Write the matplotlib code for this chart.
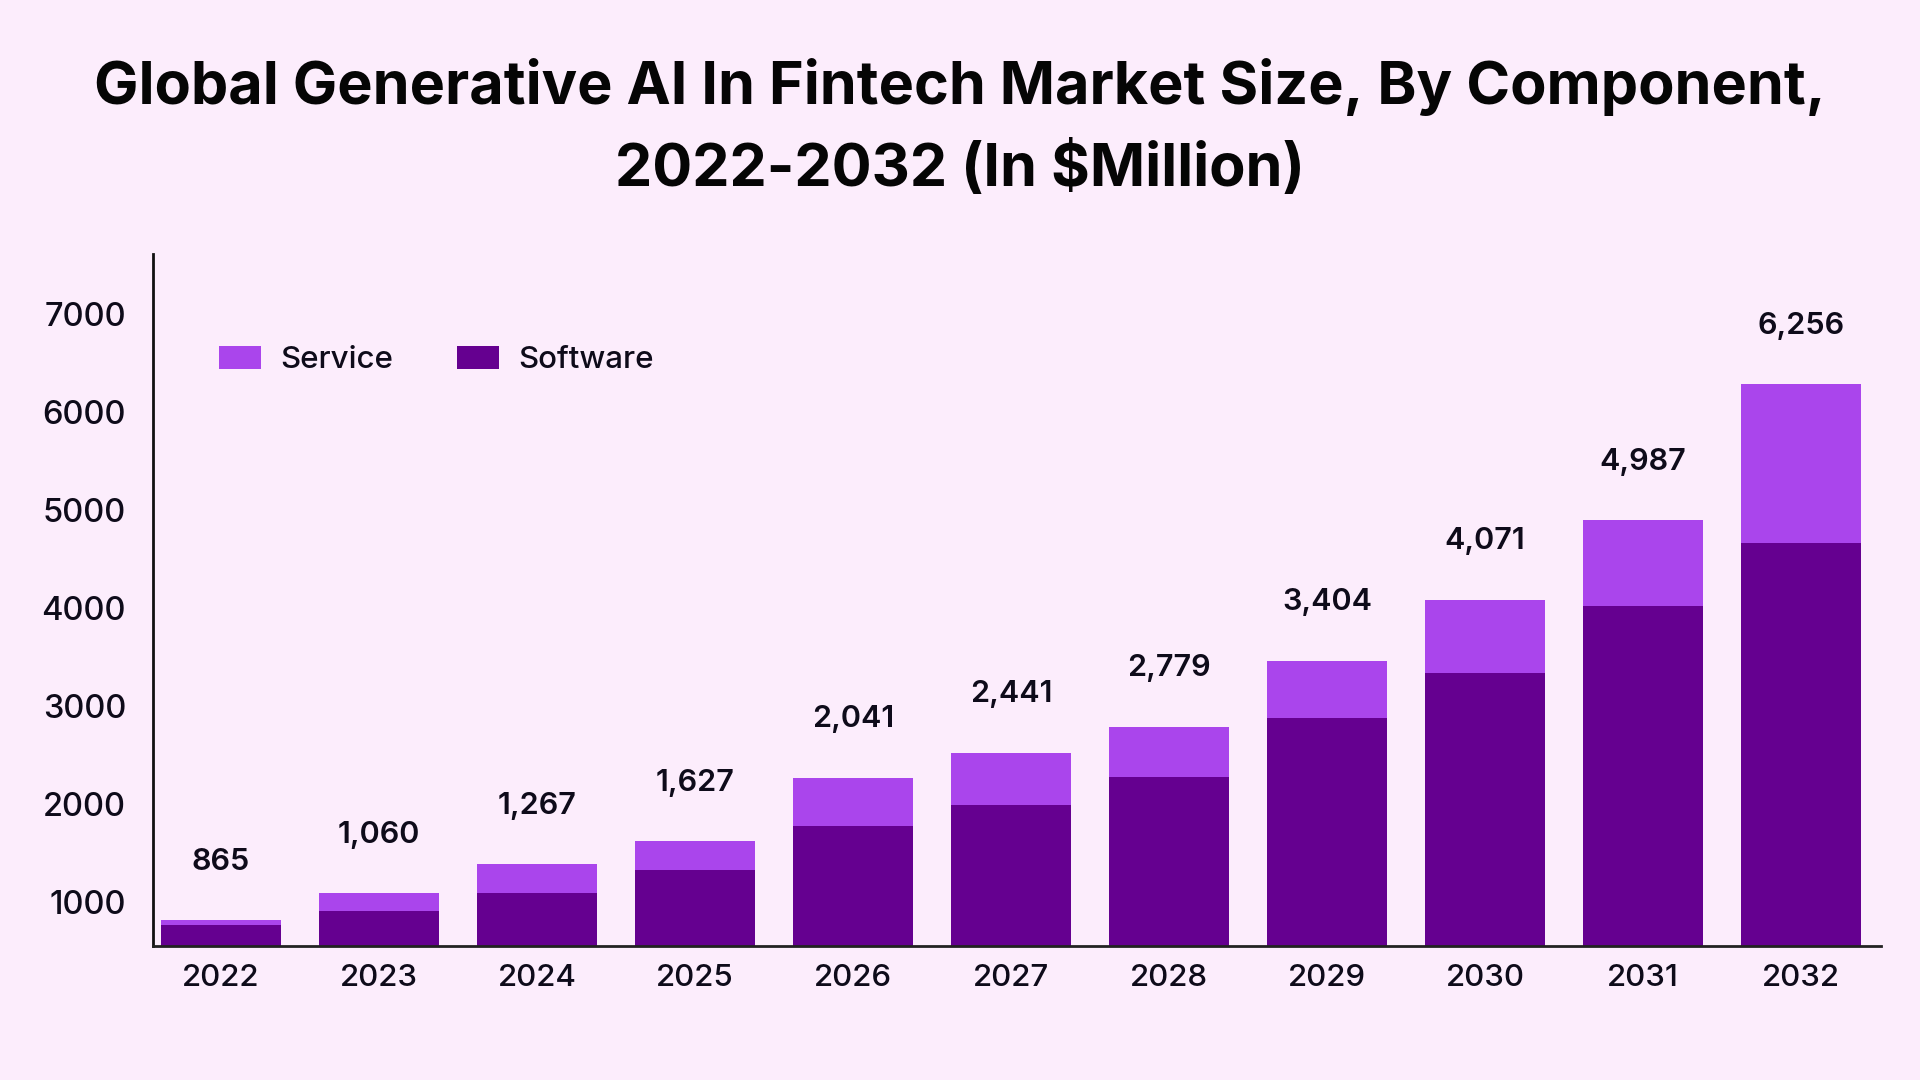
import matplotlib
matplotlib.use("Agg")
import matplotlib.pyplot as plt
from matplotlib.patches import Patch
import numpy as np

years = ['2022', '2023', '2024', '2025', '2026', '2027', '2028', '2029', '2030', '2031', '2032']
software = [767, 910, 1094, 1329, 1781, 1992, 2278, 2877, 3342, 4022, 4669]
service = [51, 184, 296, 296, 493, 537, 513, 588, 745, 876, 1618]
total_labels = ['865', '1,060', '1,267', '1,627', '2,041', '2,441', '2,779', '3,404', '4,071', '4,987', '6,256']
yticks = [1000, 2000, 3000, 4000, 5000, 6000, 7000]

BG = '#FCEDFC'
C_SERV = '#AA45EC'
C_SOFT = '#650090'
TXT = '#0E0B1A'
FONT = ['Inter', 'DejaVu Sans']

plt.rcParams['font.family'] = FONT

fig = plt.figure(figsize=(19.2, 10.8), dpi=100, facecolor=BG)
ax = fig.add_axes([152.5/1920, 1-945.5/1080, (1881-152.5)/1920, (945.5-254)/1080])
ax.set_facecolor(BG)

x = np.arange(len(years))
w = 0.76
ax.bar(x, software, width=w, color=C_SOFT, zorder=2)
ax.bar(x, service, width=w, bottom=software, color=C_SERV, zorder=2)

tops = np.array(software) + np.array(service)
for xi, t, lab in zip(x, tops, total_labels):
    ax.annotate(lab, (xi, t), xytext=(0, 42), textcoords='offset points',
                ha='center', va='center', fontsize=22, fontweight='semibold', color=TXT)

ax.set_xlim(-0.4335, 10.506)
ax.set_ylim(561, 7613)
ax.set_yticks(yticks)
ax.set_yticklabels([str(v) for v in yticks])
ax.set_xticks(x)
ax.set_xticklabels(years)
ax.tick_params(axis='both', length=0, labelcolor=TXT)
ax.tick_params(axis='y', pad=19, labelsize=23.5)
ax.tick_params(axis='x', pad=13, labelsize=22.5)
for lab in ax.get_xticklabels() + ax.get_yticklabels():
    lab.set_fontweight('medium')

for s in ['top', 'right']:
    ax.spines[s].set_visible(False)
ax.spines['left'].set_color('#111111')
ax.spines['left'].set_linewidth(2)
ax.spines['bottom'].set_color('#222222')
ax.spines['bottom'].set_linewidth(2)

handles = [Patch(facecolor=C_SERV, label='Service'), Patch(facecolor=C_SOFT, label='Software')]
leg = fig.legend(handles=handles, loc='center left', bbox_to_anchor=(219.3/1920, 1-360/1080),
                 ncol=2, frameon=False, fontsize=22.5, handlelength=1.35, handleheight=0.76,
                 handletextpad=0.6, columnspacing=2.05, borderpad=0, borderaxespad=0)
for t in leg.get_texts():
    t.set_color(TXT)
    t.set_fontweight('medium')

fig.text(0.5, 1-87/1080, 'Global Generative AI In Fintech Market Size, By Component,',
         ha='center', va='center', fontsize=42.7, fontweight='bold', color='#050505')
fig.text(0.5, 1-170/1080, '2022-2032 (In $Million)',
         ha='center', va='center', fontsize=42.7, fontweight='bold', color='#050505')

fig.savefig('out.png', dpi=100, facecolor=BG)
